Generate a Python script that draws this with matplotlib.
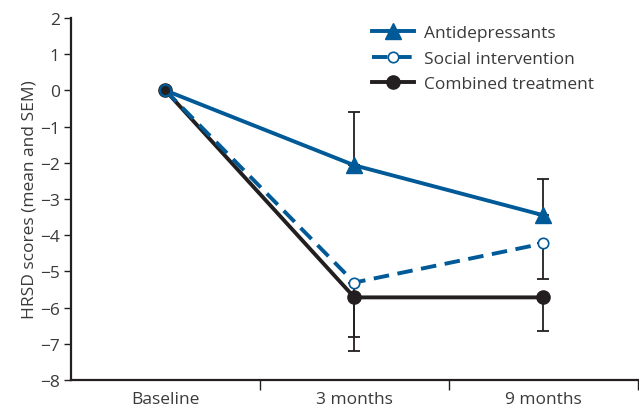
import numpy as np
import matplotlib.pyplot as plt

# data
timepoints = ['Baseline', '3 months', '9 months']
antidep = [0, -2.07, -3.45]
antidep_sem = [0, 1.46, 1.0]
social = [0, -5.31, -4.23]
social_sem = [0, 1.5, 0.97]
combined = [0, -5.72, -5.72]
combined_sem = [0, 1.48, 0.94]

blue = '#005a97'
dark = '#231f20'
txt = '#3a3a3a'

plt.rcParams['font.family'] = ['Open Sans', 'DejaVu Sans']
plt.rcParams['font.size'] = 12.5

fig = plt.figure(figsize=(6.39, 4.14), dpi=100)
ax = fig.add_axes([0.111, 0.08, 0.887, 0.874])

x = np.arange(len(timepoints)) + 0.5

# one-sided error bars (up for antidepressants, down for the others)
ax.errorbar(x[1:], antidep[1:], yerr=[np.zeros(2), antidep_sem[1:]], fmt='none',
            ecolor=dark, elinewidth=1.3, capsize=4, capthick=1.3, zorder=2)
ax.errorbar(x[1:], social[1:], yerr=[social_sem[1:], np.zeros(2)], fmt='none',
            ecolor=dark, elinewidth=1.3, capsize=4, capthick=1.3, zorder=2)
ax.errorbar(x[1:], combined[1:], yerr=[combined_sem[1:], np.zeros(2)], fmt='none',
            ecolor=dark, elinewidth=1.3, capsize=4, capthick=1.3, zorder=2)

ax.plot(x, combined, '-', color=dark, lw=2.8, marker='o', ms=9.5,
        mfc=dark, mec=dark, label='Combined treatment', zorder=3)
ax.plot(x, social, '--', color=blue, lw=2.8, dashes=(4, 2.2), marker='o', ms=7.5,
        markevery=[1, 2], mfc='white', mec=blue, mew=1.2,
        label='Social intervention', zorder=4)
ax.plot(x, antidep, '-', color=blue, lw=2.8, marker='^', ms=12,
        markevery=[1, 2], mfc=blue, mec=blue, label='Antidepressants', zorder=5)
# baseline point drawn as dark dot with blue ring
ax.plot(x[:1], antidep[:1], 'o', ms=8, mfc=dark, mec=blue, mew=1.5, zorder=6)

ax.set_xlim(0, 3)
ax.set_ylim(-8, 2)
ax.set_yticks(np.arange(-8, 3, 1))
ax.set_yticklabels([str(v).replace('-', '\u2212') for v in range(-8, 3)])
ax.set_xticks([1, 2, 3])
ax.set_xticklabels([])
ax.set_xticks(x, minor=True)
ax.set_xticklabels(timepoints, minor=True)
ax.tick_params(axis='x', which='minor', length=0, pad=8, colors=txt)
ax.tick_params(axis='x', which='major', length=7, width=1, color=dark)
ax.tick_params(axis='y', length=5, width=1, color=dark, labelcolor=txt, pad=3)
ax.set_ylabel('HRSD scores (mean and SEM)', color=txt, labelpad=2)

for s in ['top', 'right']:
    ax.spines[s].set_visible(False)
for s in ['left', 'bottom']:
    ax.spines[s].set_linewidth(1.6)
    ax.spines[s].set_color(dark)

h, l = ax.get_legend_handles_labels()
order = [2, 1, 0]
leg = ax.legend([h[i] for i in order], [l[i] for i in order], loc='upper left',
                bbox_to_anchor=(0.531, 0.981), frameon=False, handlelength=2.4,
                handletextpad=0.6, labelspacing=0.55, borderpad=0,
                borderaxespad=0, fontsize=12.5)
for t in leg.get_texts():
    t.set_color(txt)

fig.savefig('out.png', dpi=100)
